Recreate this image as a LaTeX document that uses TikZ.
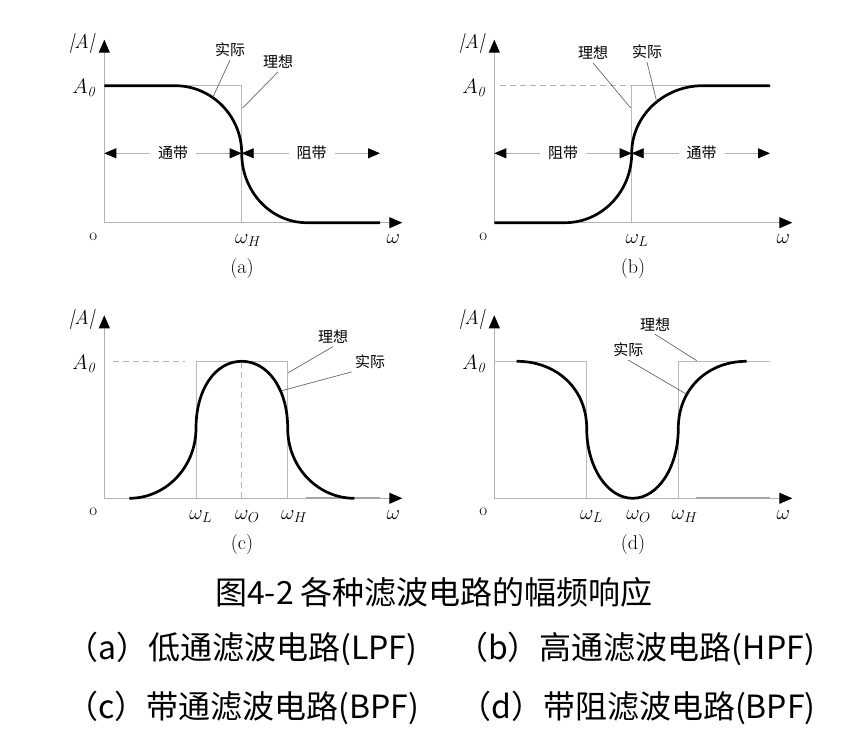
\documentclass[tikz,border=0pt]{standalone}
\usepackage{fontspec}
\usepackage{mathtools}
\newfontfamily\cjkfont{Noto Sans CJK SC}
\usetikzlibrary{arrows.meta}
\tikzset{
	axisline/.style={gray!60, line width=0.9pt, -{Triangle[length=13pt, width=11pt, black]}},
	idealline/.style={gray!55, line width=1pt},
	actualline/.style={black, line width=2.7pt, line join=round},
	guideline/.style={gray!60, line width=0.9pt, dash pattern=on 6pt off 4pt},
	tailline/.style={gray!70, line width=2pt},
	leaderline/.style={black!60, line width=0.7pt},
	bandarrow/.style={gray!60, line width=0.8pt, {Triangle[length=12pt, width=10pt, black]}-{Triangle[length=12pt, width=10pt, black]}},
	cjklabel/.style={font=\cjkfont\fontsize{15}{18}\selectfont, inner sep=3pt},
	bandlabel/.style={font=\cjkfont\fontsize{15}{18}\selectfont, fill=white, inner xsep=8pt, inner ysep=2pt},
	mathlabel/.style={font=\fontsize{20}{24}\selectfont, inner sep=0pt},
	captiontext/.style={font=\cjkfont\fontsize{32}{38}\selectfont, inner sep=0pt}
}
\newcommand{\filtaxes}[1]{\draw[axisline] (0,0) -- (0,183);
					\draw[axisline] (0,0) -- (298,0);
					\node[mathlabel, anchor=base] (#1absA) at (-22,174) {\textit{|A|}};
					\node[mathlabel, anchor=base east] (#1Azero) at (-9,129) {$A_{\mathit{0}}$};
					\node[mathlabel, anchor=base, font=\fontsize{17}{20}\selectfont] (#1orig) at (-11,-17.5) {o};
					\node[mathlabel, anchor=base] (#1omega) at (289,-21) {$\omega$};}

\begin{document}
\begin{tikzpicture}[x=1pt, y=1pt]

					\useasboundingbox (0,0) rectangle (865,733);

					\begin{scope}[xshift = 104.3pt, yshift = 510.3pt]
						\filtaxes{a}
						\draw[idealline] (0,137) -- (137.4,137) -- (137.4,0);
						\draw[bandarrow] (0,69.4) -- (137.4,69.4);
						\draw[bandarrow] (137.4,69.4) -- (275.7,69.4);
						\node[bandlabel] (atong) at (68.7,69.4) {通带};
						\node[bandlabel] (azu) at (207.4,69.4) {阻带};
						\draw[actualline] (0,137) -- (70.7,137) .. controls (107.5,137) and (137.4,106.7) .. (137.4,69.4)
							.. controls (137.4,31.1) and (166.5,0) .. (202.4,0) -- (275.7,0);
						\node[mathlabel, anchor=base] (aomegaH) at (137.4,-21) {$\omega_{\mathrlap{H}}$};
						\node[mathlabel, anchor=base, font=\fontsize{20}{24}\selectfont] (acap) at (137.7,-51) {(a)};
						\node[cjklabel] (ashiji) at (125.7,172.7) {实际};
						\node[cjklabel] (alixiang) at (173.7,160.7) {理想};
						\coordinate (ashijiend) at (108.7,125.7);
						\coordinate (alixiangend) at (138.4,114.7);
						\draw[leaderline] (ashiji.south) -- (ashijiend);
						\draw[leaderline] (alixiang.south) -- (alixiangend);
					\end{scope}

					\begin{scope}[xshift = 494.3pt, yshift = 510.3pt]
						\filtaxes{b}
						\draw[guideline] (6,137) -- (137.4,137);
						\draw[idealline] (137.4,0) -- (137.4,137) -- (275.7,137);
						\draw[bandarrow] (0,69.4) -- (137.4,69.4);
						\draw[bandarrow] (137.4,69.4) -- (275.7,69.4);
						\node[bandlabel] (bzu) at (68.7,69.4) {阻带};
						\node[bandlabel] (btong) at (207.4,69.4) {通带};
						\draw[actualline] (0,0) -- (70.7,0) .. controls (107.5,0) and (137.4,31.1) .. (137.4,69.4)
							.. controls (137.4,106.7) and (169.3,137) .. (208.7,137) -- (275.7,137);
						\node[mathlabel, anchor=base] (bomegaL) at (138,-21) {$\omega_{\mathrlap{L}}$};
						\node[mathlabel, anchor=base, font=\fontsize{20}{24}\selectfont] (bcap) at (138.7,-51) {(b)};
						\node[cjklabel] (blixiang) at (98.7,169.7) {理想};
						\node[cjklabel] (bshiji) at (152.7,170.7) {实际};
						\coordinate (blixiangend) at (136.4,114.7);
						\coordinate (bshijiend) at (162.4,121);
						\draw[leaderline] (blixiang.south) -- (blixiangend);
						\draw[leaderline] (bshiji.south) -- (bshijiend);
					\end{scope}

					\begin{scope}[xshift = 104.3pt, yshift = 234.7pt]
						\filtaxes{c}
						\draw[guideline] (8.7,137) -- (80.7,137);
						\draw[guideline] (137.4,0) -- (137.4,137);
						\draw[idealline] (91.7,0) -- (91.7,137) -- (183.4,137) -- (183.4,0);
						\draw[tailline] (202,0) -- (276,0);
						\draw[actualline] (25,0) .. controls (61.8,0) and (91.7,31.4) .. (91.7,70)
							.. controls (91.7,108.9) and (110.9,137) .. (137.4,137)
							.. controls (163.9,137) and (183.4,108.9) .. (183.4,70)
							.. controls (183.4,31.4) and (213.2,0) .. (250,0);
						\node[mathlabel, anchor=base] (comegaL) at (91.7,-21) {$\omega_{\mathrlap{L}}$};
						\node[mathlabel, anchor=base] (comegaO) at (137.4,-21) {$\omega_{\mathrlap{O}}$};
						\node[mathlabel, anchor=base] (comegaH) at (183.4,-21) {$\omega_{\mathrlap{H}}$};
						\node[mathlabel, anchor=base, font=\fontsize{20}{24}\selectfont] (ccap) at (137.7,-51) {(c)};
						\node[cjklabel] (clixiang) at (228.7,161.6) {理想};
						\node[cjklabel] (cshiji) at (265.7,136.6) {实际};
						\coordinate (clixiangend) at (184,125.6);
						\coordinate (cshijiend) at (177.5,107.6);
						\draw[leaderline] (clixiang.south) -- (clixiangend);
						\draw[leaderline] (cshiji.south west) -- (cshijiend);
					\end{scope}

					\begin{scope}[xshift = 494.3pt, yshift = 234.7pt]
						\filtaxes{d}
						\draw[idealline] (0,137) -- (92.4,137) -- (92.4,0);
						\draw[idealline] (184,0) -- (184,137) -- (275.7,137);
						\draw[tailline] (202,0) -- (276,0);
						\draw[actualline] (22.4,137) .. controls (63,137) and (92.4,108.9) .. (92.4,70)
							.. controls (92.4,31.4) and (113,0) .. (138.4,0)
							.. controls (163.8,0) and (184,31.4) .. (184,70)
							.. controls (184,108.9) and (212.7,137) .. (252.4,137);
						\node[mathlabel, anchor=base] (domegaL) at (92.4,-21) {$\omega_{\mathrlap{L}}$};
						\node[mathlabel, anchor=base] (domegaO) at (138.7,-21) {$\omega_{\mathrlap{O}}$};
						\node[mathlabel, anchor=base] (domegaH) at (184,-21) {$\omega_{\mathrlap{H}}$};
						\node[mathlabel, anchor=base, font=\fontsize{20}{24}\selectfont] (dcap) at (138.7,-51) {(d)};
						\node[cjklabel] (dlixiang) at (160.7,174) {理想};
						\node[cjklabel] (dshiji) at (134,148.3) {实际};
						\coordinate (dlixiangend) at (202.4,137.6);
						\coordinate (dshijiend) at (192.4,104);
						\draw[leaderline] (dlixiang.south) -- (dlixiangend);
						\draw[leaderline] (dshiji.south) -- (dshijiend);
					\end{scope}

					\node[captiontext, anchor=west] (title) at (215,141) {图4-2 各种滤波电路的幅频响应};
					\node[captiontext, anchor=west] (capa) at (66,84) {（a）低通滤波电路(LPF)};
					\node[captiontext, anchor=west] (capb) at (456,84) {（b）高通滤波电路(HPF)};
					\node[captiontext, anchor=west] (capc) at (66,25) {（c）带通滤波电路(BPF)};
					\node[captiontext, anchor=west] (capd) at (459,25) {（d）带阻滤波电路(BPF)};

\end{tikzpicture}
\end{document}
